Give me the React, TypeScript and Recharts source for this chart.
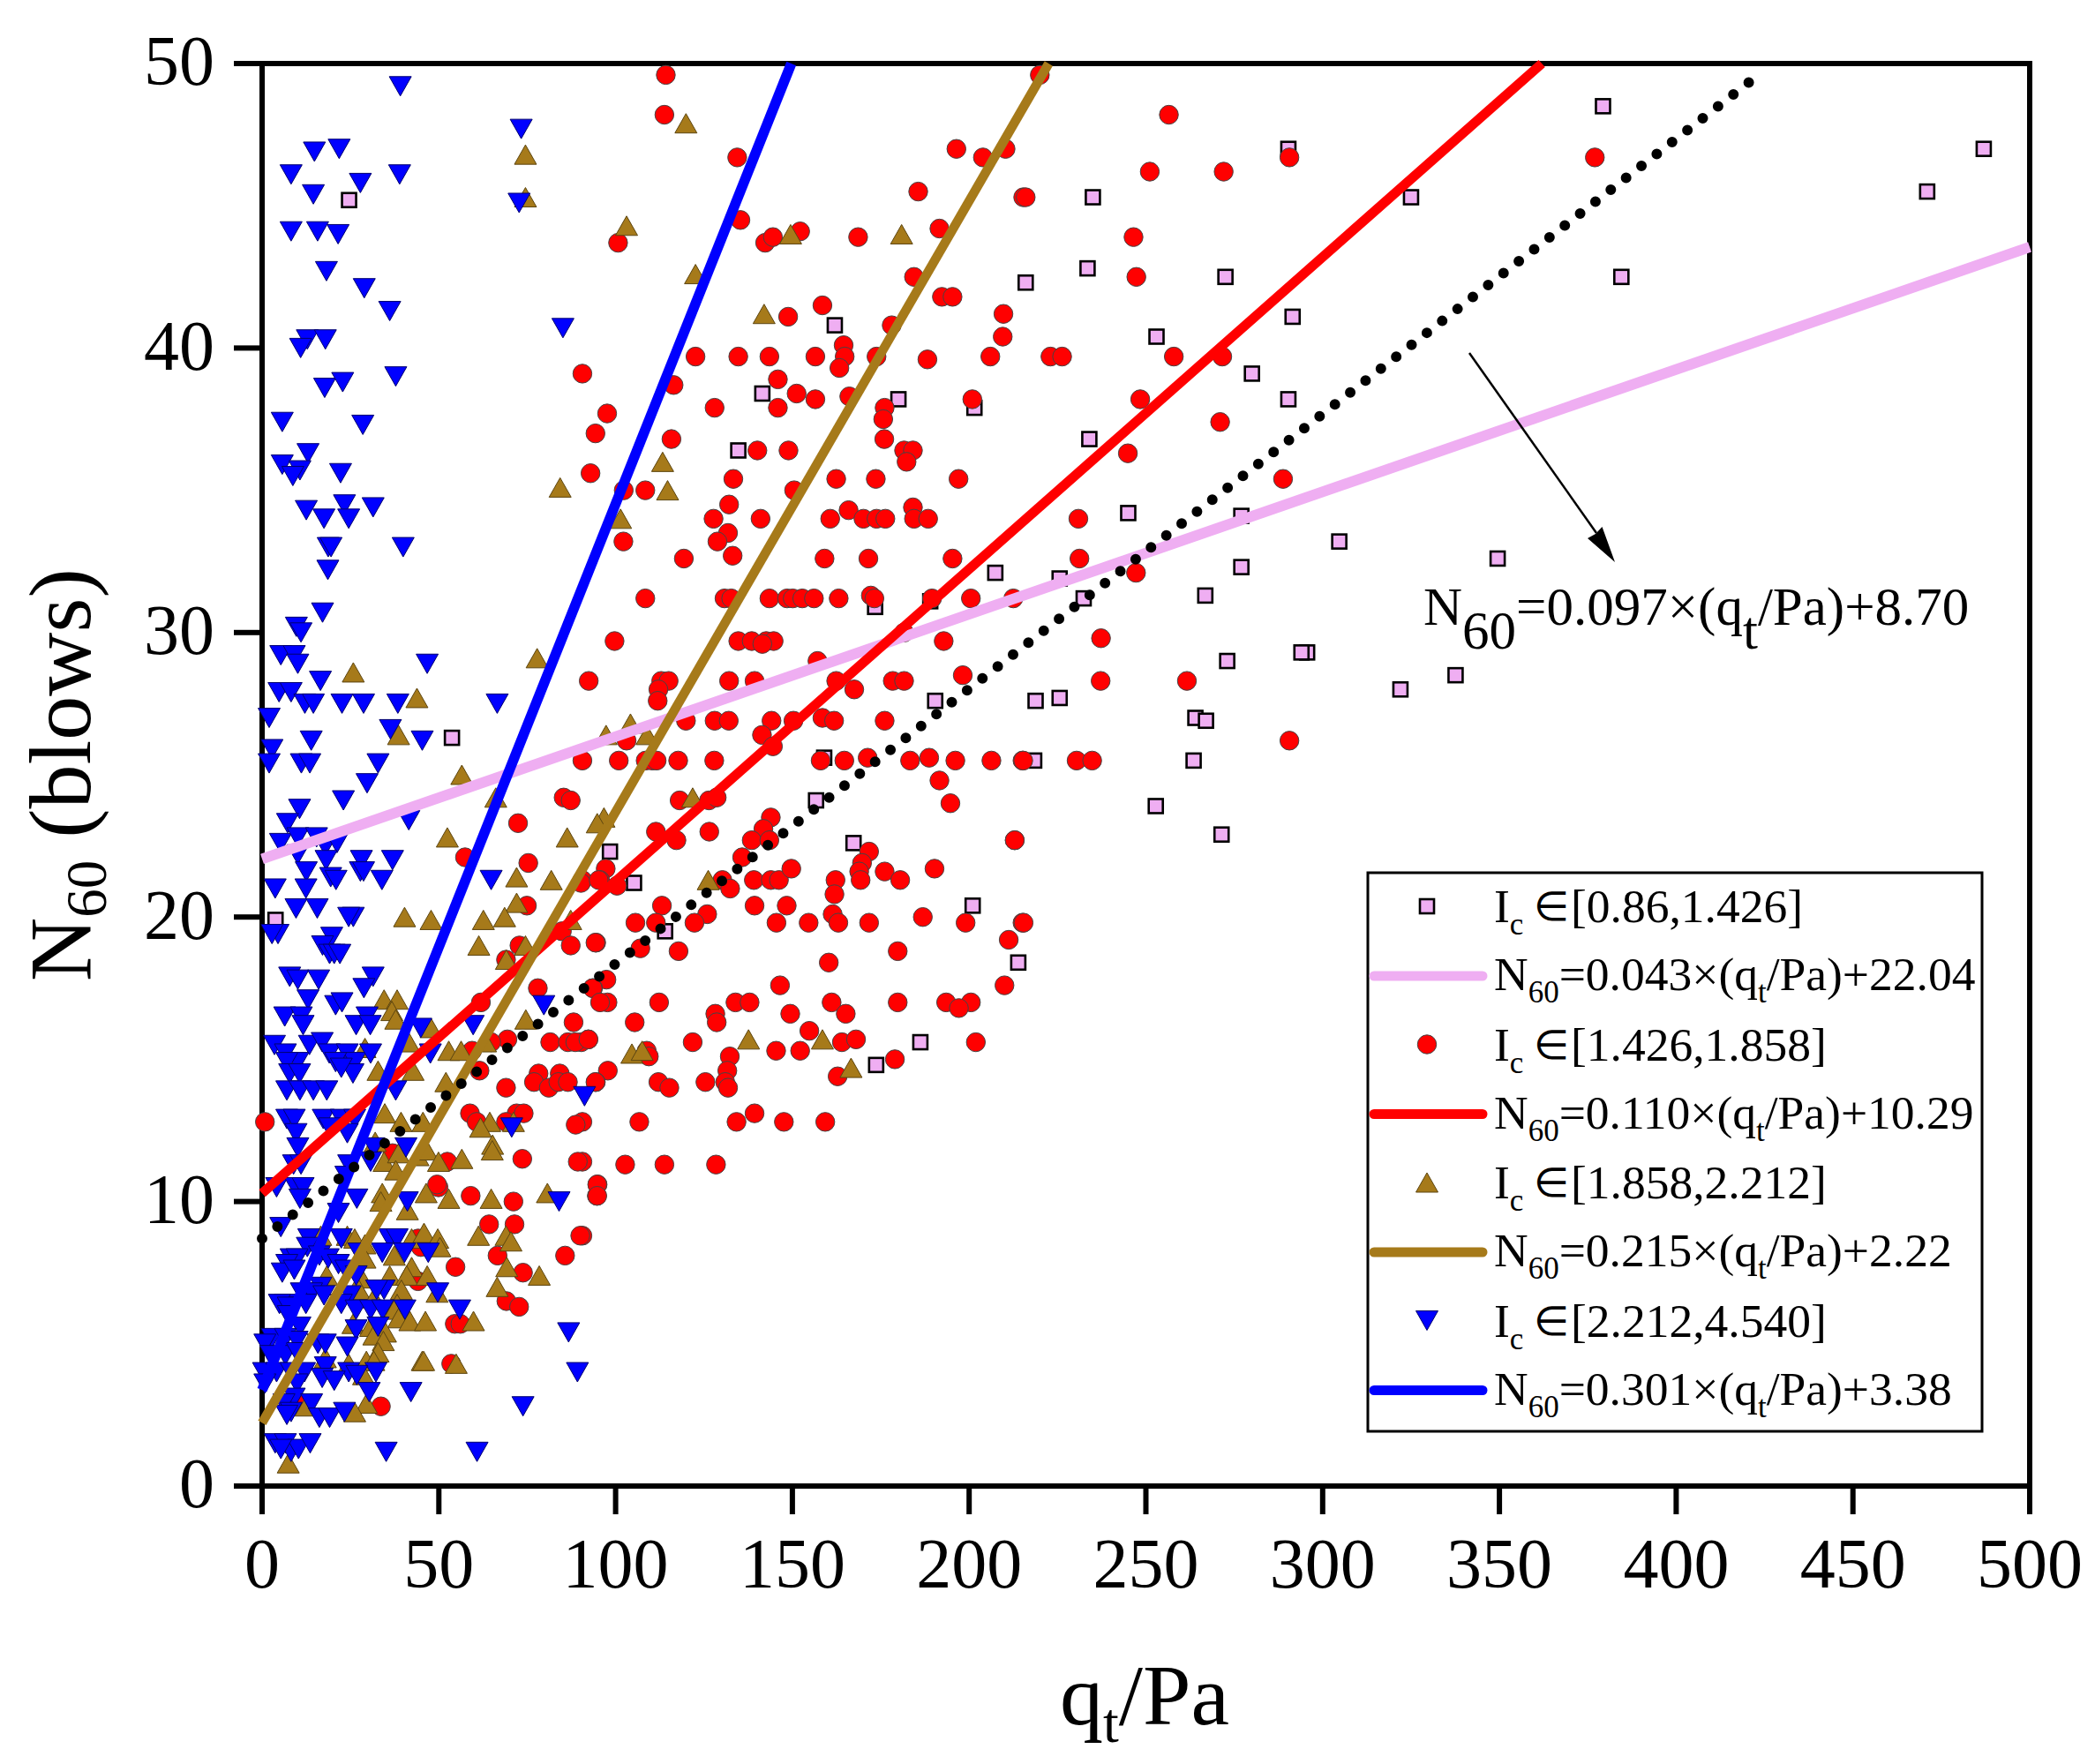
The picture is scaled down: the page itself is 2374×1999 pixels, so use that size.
import { ScatterChart, Scatter, XAxis, YAxis, ReferenceLine } from 'recharts';

type Pt = [number, number];

const xTicks = [0, 50, 100, 150, 200, 250, 300, 350, 400, 450, 500];
const yTicks = [0, 10, 20, 30, 40, 50];

const PINK = '#EFAEF2';
const RED = '#FF0000';
const BROWN = '#A67A1A';
const BLUE = '#0000FF';

// fitted lines, end points as seen in the plot
const pinkFit: Pt[] = [[0, 22.04], [500, 43.55]];
const redFit: Pt[] = [[0, 10.29], [362, 50]];
const brownFit: Pt[] = [[0, 2.22], [222.5, 50]];
const blueFit: Pt[] = [[0, 3.38], [149.7, 50]];
const blackFit: Pt[] = [[0, 8.7], [423.6, 49.63]];

const squares: Pt[] = [
  [24.6, 45.2], [290.3, 47], [379.3, 48.5], [487, 47], [471, 45.5], [325, 45.3], [235, 45.3], [233.5, 42.8],
  [216, 42.3], [272.5, 42.5], [384.5, 42.5], [162, 40.8], [253, 40.4], [291.5, 41.1], [280, 39.1], [180, 38.2],
  [201.5, 37.9], [141.5, 38.4], [134.7, 36.4], [234, 36.8], [290.3, 38.2], [245, 34.2], [277, 34.1], [304.7, 33.2],
  [349.5, 32.6], [277, 32.3], [207.4, 32.1], [225.6, 31.9], [232.4, 31.2], [266.8, 31.3], [173.4, 30.9], [189, 31.1],
  [273, 29], [295.6, 29.3], [294, 29.3], [322, 28], [337.6, 28.5], [190.4, 27.6], [218.8, 27.6], [225.6, 27.7],
  [264, 27], [267, 26.9], [53.7, 26.3], [263.5, 25.5], [218.4, 25.5], [159, 25.6], [156.7, 24.1], [252.8, 23.9],
  [271.4, 22.9], [167.3, 22.6], [98.4, 22.3], [105.2, 21.2], [201, 20.4], [114, 19.5], [213.9, 18.4], [186.2, 15.6],
  [173.7, 14.8], [3.8, 19.9],
];

const circles: Pt[] = [
  [114.2, 49.6], [113.8, 48.2], [134.4, 46.7], [135.3, 44.5], [100.7, 43.7], [142.3, 43.7], [144.5, 43.9], [152.2, 44.1],
  [168.6, 43.9], [196.4, 47], [203.9, 46.7], [210.3, 47], [185.6, 45.5], [215.3, 45.3], [191.6, 44.2], [184.4, 42.5],
  [192.3, 41.8], [195.3, 41.8], [209.7, 41.2], [209.5, 40.4], [206, 39.7], [188.2, 39.6], [178.1, 40.8], [173.8, 39.7],
  [164.5, 40.1], [164.8, 39.7], [163.3, 39.3], [156.5, 39.7], [143.5, 39.7], [134.7, 39.7], [122.6, 39.7], [148.8, 41.1],
  [158.5, 41.5], [145.9, 38.9], [151.2, 38.4], [156.5, 38.2], [166.1, 38.3], [145.9, 37.9], [128, 37.9], [116.4, 38.7],
  [97.6, 37.7], [94.3, 37], [90.6, 39.1], [115.8, 36.8], [92.9, 35.6], [140.1, 36.4], [148.9, 36.4], [176.1, 37.9],
  [175.7, 37.5], [176, 36.8], [181.6, 36.4], [184.1, 36.4], [182.3, 36], [200.9, 38.2], [133.3, 35.4], [162.4, 35.4],
  [173.6, 35.4], [197, 35.4], [150.5, 35], [102.3, 35], [108.4, 35],
  [132.1, 34.5], [127.7, 34], [141, 34], [131.8, 33.5], [128.8, 33.2], [133.1, 32.7], [102.2, 33.2], [119.3, 32.6],
  [160.7, 34], [165.9, 34.3], [170.1, 34], [173.8, 34], [176.3, 34], [184.1, 34.4], [184.4, 34], [188.4, 34],
  [159.1, 32.6], [171.5, 32.6], [195.3, 32.6], [108.4, 31.2], [130.8, 31.2], [132.7, 31.2], [143.5, 31.2], [148.5, 31.2],
  [150.1, 31.2], [152.8, 31.2], [156.1, 31.2], [163.1, 31.2], [172.2, 31.3], [173.2, 31.2], [189.5, 31.2], [200.5, 31.2],
  [212.5, 31.2], [99.7, 29.7], [134.7, 29.7], [138.5, 29.7], [142.6, 29.7], [144.7, 29.7], [141.5, 29.6], [181.6, 30],
  [192.8, 29.7], [157.1, 29], [92.4, 28.3], [132.1, 28.3], [139.3, 28.3], [162.4, 28.3], [178.4, 28.3], [181.6, 28.3],
  [198.2, 28.5], [167.5, 28], [112.9, 28.3], [115, 28.3], [112.1, 28], [111.9, 27.6], [119.9, 26.9], [128, 26.9],
  [132, 26.9], [144.1, 26.9], [150.3, 26.9], [158.5, 27], [161.8, 26.9], [176.1, 26.9], [141.4, 26.4], [144.5, 26],
  [103.1, 26.2], [90.6, 25.5], [100.9, 25.5], [108.5, 25.5], [110.4, 25.5], [111.6, 25.5], [117.7, 25.5], [127.9, 25.5],
  [158, 25.5], [164.7, 25.5], [171.3, 25.6], [183.3, 25.5], [188.7, 25.6], [196.1, 25.5], [206.3, 25.5], [215.1, 25.5],
  [191.6, 24.8], [194.7, 24], [118.1, 24.1], [126.4, 24.1], [128.6, 24.2], [111.4, 23], [117.2, 22.7], [126.5, 23],
  [143.9, 23.5], [141.8, 23.1], [138.5, 22.7], [143.5, 22.7], [135.8, 22.1], [130.2, 21.3], [132.4, 21], [139.1, 21.3],
  [143.9, 21.3], [146.2, 21.3], [149.7, 21.7], [162.2, 21.3], [161.9, 20.8], [171.7, 22.3], [169.7, 21.9], [168.9, 21.6],
  [169.3, 21.3], [176.1, 21.6], [180.5, 21.3], [190.2, 21.7], [212.9, 22.7], [97.2, 21.7], [95.6, 21.3], [100.4, 21.1],
  [90.6, 21.3], [113.1, 20.4], [125.9, 20.1], [139.3, 20.4], [148.4, 20.4], [161.4, 20.1], [105.6, 19.8], [111.4, 19.8],
  [122.3, 19.8], [145.5, 19.8], [154.6, 19.8], [163, 19.8], [171.7, 19.8], [186.9, 20], [199, 19.8], [215.1, 19.8],
  [94.5, 19.1], [107, 18.9], [117.8, 18.8], [179.8, 18.8], [211.2, 19.2], [160.3, 18.4], [210, 17.6], [146.5, 17.6],
  [97.4, 17.8], [93.6, 17.5], [97.7, 17], [112.3, 17], [105.4, 16.3], [133.9, 17], [137.9, 17], [149.4, 16.6],
  [161.1, 17], [165.1, 16.6], [179.8, 17], [193.5, 17], [200.5, 17], [197.1, 16.8], [128.2, 16.6], [128.6, 16.3],
  [154.8, 16], [92.3, 15.7], [90.3, 15.6], [108.8, 15.3], [109.4, 15.1], [121.8, 15.6], [145.4, 15.3], [152.2, 15.3],
  [164, 15.6], [168, 15.7], [179, 15], [201.9, 15.6], [132.3, 15.1], [131.6, 14.6], [131, 14.2], [131.8, 14],
  [97.8, 14.6], [94.4, 14.2], [112.1, 14.2], [115.2, 14], [125.4, 14.2], [162.8, 14.4], [139.3, 13.1], [134.2, 12.8],
  [147.6, 12.8], [159.3, 12.8], [106.7, 12.8], [90.6, 12.8], [102.7, 11.3], [113.8, 11.3], [128.4, 11.3], [90.6, 11.4],
  [94.9, 10.6], [94.7, 10.2], [90.6, 8.8],
  [85.3, 24.2], [87.3, 24.1], [72.4, 23.3], [57.4, 22.1], [75.3, 21.9], [90.2, 21.2], [95.2, 21.3], [74.9, 20.4],
  [72.8, 19], [84.8, 19.5], [87.3, 19], [94.3, 19.1], [69, 18.5], [78, 17.5], [93.5, 17.5], [61.9, 17],
  [88.1, 16.3], [95.6, 17], [81.5, 15.6], [86.5, 15.6], [88.6, 15.6], [92.3, 15.7], [69.4, 15.7], [64.8, 15.6],
  [59.4, 15.3], [61.5, 14.6], [78.2, 14.5], [76.9, 14.2], [81.1, 14], [84.2, 14.5], [83.8, 14.2], [86.5, 14.2],
  [94.3, 14.2], [69, 14], [58.8, 13.1], [60.7, 12.8], [72, 13.1], [74, 13.1], [69, 12.8], [88.7, 12.7],
  [0.8, 12.8], [36.9, 11.7], [52.4, 11.4], [73.6, 11.5], [89.3, 11.4], [49.9, 10.5], [49.5, 10.6], [59, 10.2],
  [71.1, 10], [94.8, 10.6], [94.8, 10.2], [64.2, 9.2], [71.4, 9.2], [90, 8.8], [66.6, 8.1], [85.7, 8.1],
  [54.7, 7.7], [73.8, 7.5], [44.1, 8.7], [44.9, 8.4], [44.1, 7.2], [69.1, 6.5], [72.7, 6.3], [54.5, 5.7],
  [56.1, 5.7], [53.5, 4.3], [33.6, 2.8], [9.9, 2.9], [12.4, 2.9],
  [220, 49.6], [256.5, 48.2], [251.1, 46.2], [272, 46.2], [290.6, 46.7], [216, 45.3], [246.5, 43.9], [247.3, 42.5],
  [223, 39.7], [226.3, 39.7], [257.9, 39.7], [271.6, 39.7], [248.4, 38.2], [271, 37.4], [244.9, 36.3], [288.8, 35.4],
  [230.9, 34], [231.2, 32.6], [247.2, 32.1], [237.3, 29.8], [237.2, 28.3], [261.6, 28.3], [290.6, 26.2], [230.4, 25.5],
  [234.8, 25.5], [215.3, 25.5], [212.9, 22.7], [215.4, 19.8], [377, 46.7],
];

const upTriangles: Pt[] = [
  [74.5, 46.8], [74.5, 45.3], [119.9, 47.9], [103.1, 44.3], [122.6, 42.6], [149.5, 44], [180.9, 44], [142, 41.2],
  [113.3, 36], [114.7, 35], [84.3, 35.1], [77.8, 29.1], [25.8, 28.6], [43.8, 27.7], [38.6, 26.4], [56.5, 25],
  [101.4, 34], [104.2, 26.8], [97.3, 26.4], [108.9, 26.4], [96.7, 23.5], [121.8, 24.2], [126.2, 21.3],
  [66.1, 24.2], [52.4, 22.8], [86.3, 22.8], [94.8, 23.3], [72, 21.4], [81.8, 21.3], [72, 20.5], [40.3, 20],
  [47.8, 19.9], [62.6, 19.9], [68.6, 20], [87.3, 19.9], [61.3, 19], [74.5, 19], [69.1, 18.5], [34.5, 17.1],
  [38.2, 17.1], [36.7, 16.7], [37.8, 16.4], [47.8, 16.1], [74.6, 16.4], [63.2, 15.6], [41.5, 15.6], [29.1, 15.4],
  [52.8, 15.3], [56.3, 15.3], [32.8, 14.6], [42.7, 14.6], [52, 14.2], [34.7, 13.1], [39.3, 12.8], [45.5, 12.8],
  [64.4, 12.8], [71.1, 12.8], [61.8, 12.6], [32, 12.1], [65.2, 12], [65.1, 11.8], [34.5, 11.4], [38.6, 11.7],
  [44.1, 11.6], [46.6, 11.8], [49.9, 11.4], [56.5, 11.5], [37.8, 11.1], [34, 10.3], [46.4, 10.3], [52.8, 10.1],
  [64.8, 10.1], [80.7, 10.3], [33.6, 10], [41.1, 9.7], [61.2, 8.8], [69, 8.8], [70.4, 8.6], [16.6, 8.8],
  [24.1, 8.8], [26.2, 8.7], [42.3, 8.7], [45.8, 8.9], [49.7, 8.7], [50.3, 8.4], [29.1, 8.5], [37.4, 8.1],
  [29.1, 8], [69.2, 7.7], [78.4, 7.4], [66.5, 7], [18.3, 7.4], [28.2, 7.3], [36.1, 7.4], [42.3, 7.7],
  [40.9, 7.4], [46.7, 7.4], [39.4, 6.9], [49.5, 6.8], [27.4, 6.9], [31.6, 6.6], [38.2, 6.4], [37.4, 6.2],
  [38.6, 5.9], [41.8, 5.8], [46.2, 5.8], [59.8, 5.8], [25.7, 5.7], [30.7, 5.6], [34.9, 5.4], [31.6, 5.3],
  [34.3, 5.1], [32.8, 4.7], [45.3, 4.4], [45.7, 4.4], [54.9, 4.3], [17.9, 4.5], [24.5, 4.3], [29.5, 4.4],
  [31.6, 4.4], [28.7, 3.9], [29.5, 2.9], [26.2, 2.6], [12.4, 2.8], [7.4, 0.8], [104.6, 15.2], [107.5, 15.3],
  [137.6, 15.7], [158.5, 15.7], [166.6, 14.7],
];

const downTriangles: Pt[] = [
  [39.1, 49.2], [73.3, 47.7], [14.8, 46.9], [21.8, 47], [8.2, 46.1], [27.8, 45.8], [38.9, 46.1], [14.5, 45.4],
  [72.7, 45.1], [8.2, 44.1], [15.7, 44.1], [21.5, 44], [18.2, 42.7], [28.9, 42.1], [36.1, 41.3], [85.1, 40.7],
  [12.8, 40.3], [17.9, 40.3], [10.9, 40], [17.7, 38.6], [22.8, 38.8], [37.8, 39], [5.7, 37.4], [28.5, 37.3],
  [13, 36.3], [5.7, 35.9], [10.7, 35.7], [8.7, 35.5], [22.2, 35.6], [12.5, 34.3], [23.3, 34.5], [31.4, 34.4],
  [17.5, 34], [24.5, 34], [18.7, 33], [19.5, 33], [39.9, 33], [18.6, 32.2], [17.1, 30.7], [9.7, 30.2],
  [11, 30], [5.3, 29.2], [9.1, 29.2], [10.1, 28.9], [16.5, 28.3], [46.7, 28.9], [4.8, 27.9], [8.2, 27.9],
  [12.1, 27.5], [14.5, 27.5], [22.6, 27.5], [28.7, 27.5], [38.4, 27.5], [66.5, 27.5], [2, 27], [36.3, 26.6],
  [13.9, 26.2], [45.3, 26.2], [2.8, 25.9], [2, 25.4], [11.1, 25.4], [13.5, 25.4], [32.8, 25.4], [29.7, 24.7],
  [23, 24.1], [10.6, 23.8], [41.5, 23.4], [7.2, 23.3], [5.2, 22.6], [10.1, 22.8], [15.4, 22.8], [17.9, 22.5],
  [21.2, 22.6], [10.1, 22.2], [18.1, 22], [28.1, 22], [36.9, 22], [12.5, 21.6], [19.4, 21.4], [20.9, 21.3],
  [27.8, 21.6], [28.7, 21.6], [33.9, 21.3], [64.8, 21.3], [3.7, 21], [12.4, 21], [9.6, 20.3], [15.6, 20.3],
  [25.8, 20], [24.5, 20], [4.5, 19.4], [2.8, 19.4], [19.7, 19.3], [17.1, 19], [19.1, 18.7], [20.4, 18.7],
  [22, 18.7], [7.8, 17.9], [10.1, 17.8], [16, 17.8], [31.4, 17.9], [28.8, 17.5], [13, 17.1], [20.8, 16.9],
  [22.6, 17], [6.4, 16.5], [11.1, 16.5], [11.6, 16.2], [26.6, 16.2], [29.7, 16.5], [30.6, 16.2], [79.7, 16.9],
  [59.7, 16.2], [44.9, 16.1], [3.5, 15.5], [6.6, 15.2], [13.4, 15.5], [17, 15.6], [19, 15.2], [24.1, 15.2],
  [26.2, 14.9], [30.7, 15.2], [10.1, 14.9], [7, 14.9], [7.8, 14.5], [10.6, 14.5], [20.8, 14.9], [25.7, 14.5],
  [22.4, 14.7], [47.6, 15.2], [7, 13.9], [10.7, 13.9], [14.5, 13.9], [18.3, 13.9], [37.8, 13.9], [91.2, 13.7],
  [7, 12.9], [9.1, 12.9], [17.3, 12.9], [22.4, 12.9], [26.2, 12.9], [19.1, 12.6], [9.6, 12.4], [24.1, 12.4],
  [70.6, 12.6], [10.1, 11.9], [40.7, 11.9], [31.6, 11.9], [8.9, 11.3], [11, 11.3], [24.5, 11.3], [23.7, 10.9],
  [30.7, 11.4], [4.1, 10.5], [9.5, 10.5], [11.6, 10.5], [10.7, 10.1], [26.8, 10.1], [41.1, 10], [84, 10],
  [21.6, 9.6], [5.3, 9.1], [13.2, 8.7], [22.4, 8.7], [36.1, 8.7], [38.2, 8.7], [12.8, 8.4], [16.2, 8.1],
  [34, 8.2], [40.3, 8.2], [47, 8.2], [27.4, 8.2], [8.2, 8], [9.9, 8], [18.7, 8], [7, 7.8],
  [5.7, 7.5], [9.1, 7.6], [21.6, 7.8], [23.7, 7.6], [26.6, 7.4], [34.5, 6.9], [32.4, 6.9], [49.7, 6.8],
  [16.6, 7], [11.1, 6.8], [14, 6.8], [6.6, 6.4], [8.2, 6.3], [17.5, 6.7], [24.9, 6.7], [4.9, 6.4],
  [7.4, 6.3], [12.4, 6.4], [22.4, 6.4], [26.6, 6.2], [30.7, 6.2], [34.1, 6.2], [40.4, 6.2], [55.9, 6.2],
  [7.4, 6], [32.8, 5.6], [26.6, 5.5], [86.7, 5.4], [10.7, 5.6], [15.8, 5], [2.8, 5.2], [0.8, 5],
  [6.6, 5.2], [9.9, 5.1], [17.9, 5], [24.1, 4.9], [6.6, 4.6], [9.9, 4.7], [2.4, 4.6], [17.9, 4.2],
  [24.5, 4], [32.2, 4], [89.2, 4], [0.4, 4], [4.1, 4], [8.2, 4], [12, 4], [17, 3.8],
  [20.4, 3.7], [26.8, 3.9], [9.9, 3.6], [0.8, 3.6], [30.3, 3.3], [42.1, 3.3], [9.1, 3.1], [14, 2.9],
  [6.2, 2.9], [8.2, 2.6], [7, 2.5], [16.2, 2.4], [19.1, 2.4], [23.3, 2.6], [73.8, 2.8], [3.7, 1.5],
  [6.6, 1.5], [8.2, 1.2], [10.3, 1.3], [13.6, 1.5], [5.3, 1.3], [35.1, 1.2], [60.8, 1.2],
];

const legendRows = [
  { kind: 'square', color: PINK, range: '[0.86,1.426]', eq: '0.043', add: '22.04' },
  { kind: 'circle', color: RED, range: '[1.426,1.858]', eq: '0.110', add: '10.29' },
  { kind: 'up', color: BROWN, range: '[1.858,2.212]', eq: '0.215', add: '2.22' },
  { kind: 'down', color: BLUE, range: '[2.212,4.540]', eq: '0.301', add: '3.38' },
];

const rows = (pts: Pt[]) => pts.map(([q, n]) => ({ q, n }));

const FONT = '"Liberation Serif", "Times New Roman", serif';

function Square({ cx, cy, s = 16 }: any) {
  return <rect x={cx - s / 2} y={cy - s / 2} width={s} height={s} fill={PINK} stroke="#000" strokeWidth={2.6} />;
}
function Circle({ cx, cy }: any) {
  return <circle cx={cx} cy={cy} r={10.7} fill={RED} stroke="#444" strokeWidth={1} />;
}
function Up({ cx, cy }: any) {
  return <polygon points={`${cx},${cy - 11} ${cx + 12.5},${cy + 11} ${cx - 12.5},${cy + 11}`} fill={BROWN} stroke="#5c4510" strokeWidth={1} />;
}
function Down({ cx, cy }: any) {
  return <polygon points={`${cx - 12.5},${cy - 11} ${cx + 12.5},${cy - 11} ${cx},${cy + 11}`} fill={BLUE} stroke="#00006e" strokeWidth={1} />;
}
const NoDot = () => <g />;

function LegendMarker({ kind, y }: { kind: string; y: number }) {
  const cx = 1617;
  if (kind === 'square') return <Square cx={cx} cy={y} s={16} />;
  if (kind === 'circle') return <Circle cx={cx} cy={y} />;
  if (kind === 'up') return <Up cx={cx} cy={y} />;
  return <Down cx={cx} cy={y} />;
}

function Overlay() {
  return (
    <svg width={2374} height={1999} style={{ position: 'absolute', left: 0, top: 0 }} fontFamily={FONT} fill="#000">
      {/* axis titles */}
      <text transform="translate(102 1112) rotate(-90)" fontSize={100}>
        N<tspan fontSize={65} dy={18}>60</tspan><tspan dy={-18}> (blows)</tspan>
      </text>
      <text x={1201} y={1954} fontSize={98}>
        q<tspan fontSize={64} dy={20}>t</tspan><tspan dy={-20}>/Pa</tspan>
      </text>

      {/* arrow and the overall fit */}
      <line x1={1665} y1={400} x2={1809} y2={604} stroke="#000" strokeWidth={2.5} />
      <polygon points="1830,637 1799,610 1808,605 1815.5,597" />
      <text x={1613} y={708} fontSize={61}>
        N<tspan dy={27}>60</tspan><tspan dy={-27}>=0.097×(q</tspan><tspan dy={27}>t</tspan><tspan dy={-27}>/Pa)+8.70</tspan>
      </text>

      {/* legend */}
      <rect x={1550} y={989} width={696} height={633} fill="none" stroke="#000" strokeWidth={3} />
      {legendRows.map((r, i) => {
        const yMark = 1027 + i * 156.5;
        const yLine = 1106 + i * 156.5;
        return (
          <g key={r.range}>
            <LegendMarker kind={r.kind} y={yMark} />
            <text x={1693} y={yMark + 18} fontSize={53.5}>
              I<tspan fontSize={35} dy={14}>c</tspan>
            </text>
            <text x={1738} y={yMark + 16} fontSize={46}>∈</text>
            <text x={1780} y={yMark + 18} fontSize={53.5}>{r.range}</text>
            <line x1={1557} x2={1680} y1={yLine} y2={yLine} stroke={r.color} strokeWidth={11} strokeLinecap="round" />
            <text x={1693} y={yLine + 16} fontSize={53.5}>
              N<tspan fontSize={35} dy={14}>60</tspan><tspan dy={-14}>={r.eq}×(q</tspan><tspan fontSize={35} dy={14}>t</tspan><tspan dy={-14}>/Pa)+{r.add}</tspan>
            </text>
          </g>
        );
      })}
    </svg>
  );
}

export default function App() {
  const tickStyle = { fontFamily: FONT, fontSize: 80, fill: '#000' };
  const axisLine = { stroke: '#000', strokeWidth: 6, strokeLinecap: 'square' as const };
  const tickLine = { stroke: '#000', strokeWidth: 6 };
  return (
    <div style={{ position: 'absolute', left: 0, top: 0, width: 2374, height: 1999, background: '#fff' }}>
      <ScatterChart width={2374} height={1999} margin={{ top: 72, right: 74, bottom: 215, left: 197 }}>
        <XAxis type="number" dataKey="q" domain={[0, 500]} ticks={xTicks} interval={0} height={100} tick={tickStyle} tickSize={32} tickMargin={26} axisLine={axisLine} tickLine={tickLine} />
        <YAxis type="number" dataKey="n" domain={[0, 50]} ticks={yTicks} interval={0} width={100} tick={{ ...tickStyle, dy: -4 }} tickSize={32} tickMargin={22} axisLine={axisLine} tickLine={tickLine} />

        {/* top and right edges of the frame */}
        <ReferenceLine y={50} stroke="#000" strokeWidth={6} strokeLinecap="square" />
        <ReferenceLine x={500} stroke="#000" strokeWidth={6} strokeLinecap="square" />

        <Scatter data={rows(squares)} shape={Square} isAnimationActive={false} />
        <Scatter data={rows(circles)} shape={Circle} isAnimationActive={false} />
        <Scatter data={rows(upTriangles)} shape={Up} isAnimationActive={false} />
        <Scatter data={rows(downTriangles)} shape={Down} isAnimationActive={false} />

        <Scatter data={rows(pinkFit)} shape={NoDot} line={{ stroke: PINK, strokeWidth: 12 }} isAnimationActive={false} />
        <Scatter data={rows(redFit)} shape={NoDot} line={{ stroke: RED, strokeWidth: 11 }} isAnimationActive={false} />
        <Scatter data={rows(brownFit)} shape={NoDot} line={{ stroke: BROWN, strokeWidth: 10.5 }} isAnimationActive={false} />
        <Scatter data={rows(blueFit)} shape={NoDot} line={{ stroke: BLUE, strokeWidth: 11.5 }} isAnimationActive={false} />
        <Scatter data={rows(blackFit)} shape={NoDot} line={{ stroke: '#000', strokeWidth: 12, strokeDasharray: '0 22', strokeLinecap: 'round' }} isAnimationActive={false} />
      </ScatterChart>
      <Overlay />
    </div>
  );
}
